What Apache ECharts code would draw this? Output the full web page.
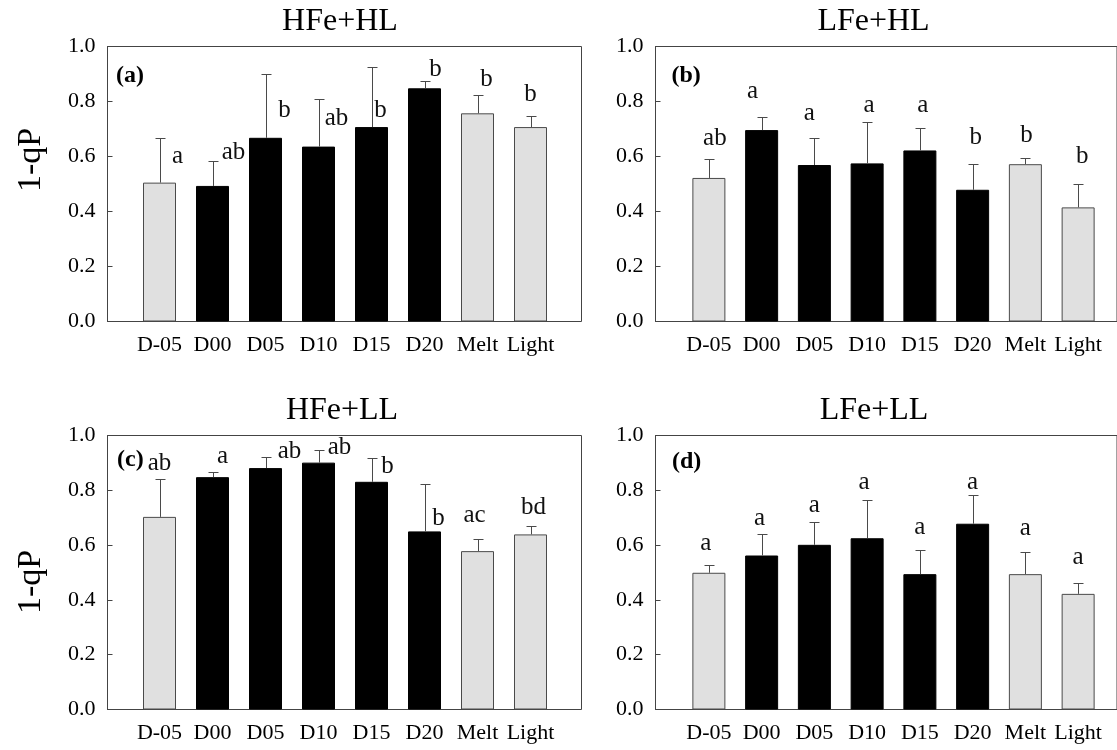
<!DOCTYPE html>
<html>
<head>
<meta charset="utf-8">
<script src="https://cdn.jsdelivr.net/npm/echarts@6/dist/echarts.min.js"></script>
<style>
html,body{margin:0;padding:0;background:#fff;}
#chart{width:1117px;height:750px;}
</style>
</head>
<body>
<div id="chart"></div>
<script>
// ---------------- data ----------------
const categories = ['D-05', 'D00', 'D05', 'D10', 'D15', 'D20', 'Melt', 'Light'];
const controlCategories = ['D-05', 'Melt', 'Light'];
const yTickLabels = ['0.0', '0.2', '0.4', '0.6', '0.8', '1.0'];
const panelTitles = ['HFe+HL', 'LFe+HL', 'HFe+LL', 'LFe+LL'];
const panelTags = ['(a)', '(b)', '(c)', '(d)'];
const yAxisName = '1-qP';

const meanA = [0.505, 0.493, 0.668, 0.636, 0.707, 0.848, 0.757, 0.707];
const seA   = [0.164, 0.089, 0.233, 0.174, 0.219, 0.025, 0.065, 0.041];
const lettersA = ['a', 'ab', 'b', 'ab', 'b', 'b', 'b', 'b'];

const meanB = [0.522, 0.696, 0.569, 0.575, 0.622, 0.479, 0.572, 0.415];
const seB   = [0.069, 0.046, 0.100, 0.152, 0.080, 0.093, 0.023, 0.086];
const lettersB = ['ab', 'a', 'a', 'a', 'a', 'b', 'b', 'b'];

const meanC = [0.703, 0.848, 0.881, 0.901, 0.831, 0.650, 0.578, 0.639];
const seC   = [0.139, 0.018, 0.040, 0.045, 0.087, 0.174, 0.046, 0.031];
const lettersC = ['ab', 'a', 'ab', 'ab', 'b', 'b', 'ac', 'bd'];

const meanD = [0.499, 0.562, 0.601, 0.625, 0.494, 0.678, 0.494, 0.422];
const seD   = [0.027, 0.080, 0.084, 0.141, 0.089, 0.105, 0.080, 0.040];
const lettersD = ['a', 'a', 'a', 'a', 'a', 'a', 'a', 'a'];

// letter annotation placement: baseline height (axis units) and horizontal shift (px)
const letterBaseA = [0.569, 0.584, 0.738, 0.706, 0.738, 0.886, 0.848, 0.794];
const letterShiftA = [18, 21, 19, 18, 9, 11, 9, 0];
const letterBaseB = [0.635, 0.805, 0.727, 0.754, 0.754, 0.639, 0.645, 0.569];
const letterShiftB = [6, -9, -5, 2, 3, 3, 1, 4];
const letterBaseC = [0.866, 0.891, 0.912, 0.927, 0.855, 0.667, 0.679, 0.706];
const letterShiftC = [0, 10, 24, 21, 16, 14, -3, 3];
const letterBaseD = [0.575, 0.665, 0.712, 0.797, 0.633, 0.797, 0.629, 0.523];
const letterShiftD = [-3, -2, 0, -3, 0, 0, 0, 0];

// ---------------- layout ----------------
const SERIF = '"Liberation Serif", "Times New Roman", serif';
const panels = [
  { mean: meanA, se: seA, letters: lettersA, base: letterBaseA, shift: letterShiftA,
    frame: { left: 107.5, top: 46.5, width: 474, height: 275 }, inner: { left: 133, width: 424 },
    titlePos: [340, 22], tagPos: [116, 75.5], yNamePos: [31, 160] },
  { mean: meanB, se: seB, letters: lettersB, base: letterBaseB, shift: letterShiftB,
    frame: { left: 655.5, top: 46.5, width: 475, height: 275 }, inner: { left: 682.5, width: 422 },
    titlePos: [873.5, 22], tagPos: [671.5, 76], yNamePos: null },
  { mean: meanC, se: seC, letters: lettersC, base: letterBaseC, shift: letterShiftC,
    frame: { left: 107.5, top: 435.5, width: 474, height: 274 }, inner: { left: 133, width: 424 },
    titlePos: [342, 411], tagPos: [117, 460], yNamePos: [31, 582] },
  { mean: meanD, se: seD, letters: lettersD, base: letterBaseD, shift: letterShiftD,
    frame: { left: 655.5, top: 435.5, width: 475, height: 274 }, inner: { left: 682.5, width: 422 },
    titlePos: [874, 411], tagPos: [672, 462], yNamePos: null }
];

const grid = [], xAxis = [], yAxis = [], series = [], graphic = [];

panels.forEach((p, k) => {
  const outer = grid.length;
  grid.push({ left: p.frame.left, top: p.frame.top, width: p.frame.width, height: p.frame.height,
              show: true, borderColor: '#444', borderWidth: 1, backgroundColor: 'transparent' });
  xAxis.push({ gridIndex: outer, type: 'value', min: 0, max: 1, show: false });
  yAxis.push({
    gridIndex: outer, type: 'value', min: 0, max: 1, interval: 0.2,
    axisLine: { show: true, lineStyle: { color: '#444', width: 1 } },
    axisTick: { show: true, inside: true, length: 5, lineStyle: { color: '#444', width: 1 } },
    splitLine: { show: false },
    axisLabel: {
      formatter: v => yTickLabels[Math.round(v / 0.2)],
      fontSize: 22, fontFamily: SERIF, color: '#000', margin: 12
    }
  });

  const inner = grid.length;
  grid.push({ left: p.inner.left, top: p.frame.top, width: p.inner.width, height: p.frame.height, show: false });
  xAxis.push({
    gridIndex: inner, type: 'category', data: categories, boundaryGap: true,
    axisLine: { show: false }, axisTick: { show: false },
    axisLabel: { interval: 0, fontSize: 22, fontFamily: SERIF, color: '#000', margin: 13 }
  });
  yAxis.push({ gridIndex: inner, type: 'value', min: 0, max: 1, show: false });

  series.push({
    type: 'bar', xAxisIndex: inner, yAxisIndex: inner, barWidth: 33, z: 2,
    data: p.mean.map((v, i) => {
      const ctrl = controlCategories.includes(categories[i]);
      return { value: v, itemStyle: { color: ctrl ? '#e0e0e0' : '#000', borderColor: ctrl ? '#4a4a4a' : '#000', borderWidth: 1 } };
    })
  });

  series.push({
    type: 'custom', xAxisIndex: inner, yAxisIndex: inner, z: 3,
    data: p.mean.map((v, i) => [i, v, p.se[i]]),
    renderItem: (params, api) => {
      const i = api.value(0), m = api.value(1), s = api.value(2);
      const a = api.coord([i, m]), b = api.coord([i, m + s]);
      const x = Math.round(a[0]) + 0.5;
      const yTop = Math.round(b[1]) + 0.5;
      const st = { stroke: '#4a4a4a', lineWidth: 1 };
      return { type: 'group', children: [
        { type: 'line', shape: { x1: x, y1: a[1], x2: x, y2: yTop }, style: st },
        { type: 'line', shape: { x1: x - 5, y1: yTop, x2: x + 5, y2: yTop }, style: st }
      ]};
    }
  });

  series.push({
    type: 'custom', xAxisIndex: inner, yAxisIndex: inner, z: 4,
    data: p.base.map((v, i) => [i, v, p.shift[i]]),
    renderItem: (params, api) => {
      const idx = params.dataIndex;
      const c = api.coord([api.value(0), api.value(1)]);
      return {
        type: 'text', x: c[0] + api.value(2), y: c[1] - 8.5,
        style: { text: p.letters[idx], font: '25px ' + SERIF, fill: '#111',
                 align: 'center', verticalAlign: 'middle', textAlign: 'center', textVerticalAlign: 'middle' }
      };
    }
  });

  graphic.push({
    type: 'text', x: p.titlePos[0], y: p.titlePos[1],
    style: { text: panelTitles[k], font: '32px ' + SERIF, fill: '#000',
             align: 'center', verticalAlign: 'middle', textAlign: 'center', textVerticalAlign: 'middle' }
  });
  graphic.push({
    type: 'text', x: p.tagPos[0], y: p.tagPos[1],
    style: { text: panelTags[k], font: 'bold 24px ' + SERIF, fill: '#000',
             align: 'left', verticalAlign: 'middle', textAlign: 'left', textVerticalAlign: 'middle' }
  });
  if (p.yNamePos) {
    graphic.push({
      type: 'text', x: p.yNamePos[0], y: p.yNamePos[1], rotation: Math.PI / 2,
      style: { text: yAxisName, font: '34px ' + SERIF, fill: '#000',
               align: 'center', verticalAlign: 'middle', textAlign: 'center', textVerticalAlign: 'middle' }
    });
  }
});

const chart = echarts.init(document.getElementById('chart'), null, { renderer: 'canvas' });
chart.setOption({ animation: false, backgroundColor: '#fff', grid, xAxis, yAxis, series, graphic });
</script>
</body>
</html>
